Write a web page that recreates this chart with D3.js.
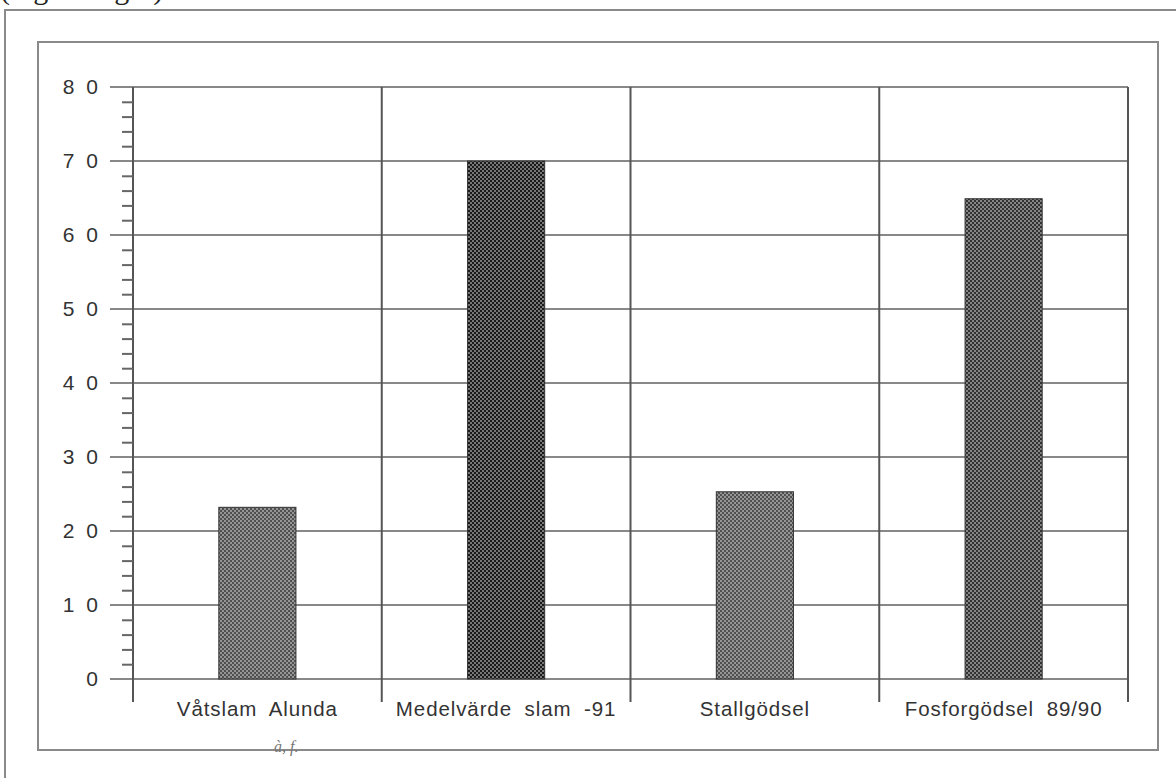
<!DOCTYPE html>
<html>
  <head>
    <meta charset="utf-8">
    <title>Fosfor chart</title>
    <script src="https://cdn.jsdelivr.net/npm/d3@7"></script>
    <style>
      body { margin: 0; background: #fff; }
      svg { display: block; }
      .frame { fill: none; stroke: #8a8a8a; stroke-width: 2; }
      .grid line { stroke: #888; stroke-width: 2; }
      .vgrid line { stroke: #555; stroke-width: 2; }
      .yaxis text { font-family: "Liberation Sans", Arial, sans-serif; font-size: 21px; fill: #333; letter-spacing: 3px; }
      .xlab { font-family: "Liberation Sans", Arial, sans-serif; font-size: 20.5px; fill: #333; word-spacing: 6px; letter-spacing: 0.9px; }
    </style>
  </head>
  <body>
    <svg id="chart" width="1176" height="778"></svg>
  </body>
  <script>
    // values
    const categories = ["Våtslam Alunda", "Medelvärde slam -91", "Stallgödsel", "Fosforgödsel 89/90"];
    const values = [23.2, 70, 25.3, 64.9];
    const majorTicks = [0, 10, 20, 30, 40, 50, 60, 70, 80];
    const tickLabels = ["0", "10", "20", "30", "40", "50", "60", "70", "80"];
    const minorTicks = d3.range(0, 81, 2).filter((v) => v % 10 !== 0);

    // halftone shades for the bars (background colour of the dot pattern)
    const barShades = ["#505050", "#1a1a1a", "#505050", "#333"];

    const svg = d3.select("#chart");

    // frames of the scanned page
    svg.append("path").attr("class", "frame").attr("d", "M5,778 V10 H1176");
    svg.append("rect").attr("class", "frame").attr("x", 38).attr("y", 42).attr("width", 1120).attr("height", 708);

    // cut-off caption at the top of the page (only descenders show on the scan)
    svg.append("text")
      .attr("x", 0).attr("y", -1)
      .style("font-family", "Liberation Serif, serif").style("font-size", "30px").style("fill", "#222")
      .text("(mg Cd/kg P)");

    const y = d3.scaleLinear().domain([0, 80]).range([679, 87]);
    const x = d3.scaleBand().domain(categories).range([133, 1128]);

    // dot patterns
    const defs = svg.append("defs");
    barShades.forEach((c, i) => {
      const p = defs.append("pattern")
        .attr("id", "dots" + i)
        .attr("width", 4).attr("height", 4)
        .attr("patternUnits", "userSpaceOnUse");
      p.append("rect").attr("width", 4).attr("height", 4).attr("fill", c);
      p.append("circle").attr("cx", 1).attr("cy", 1).attr("r", 0.8).attr("fill", "#eee");
      p.append("circle").attr("cx", 3).attr("cy", 3).attr("r", 0.8).attr("fill", "#eee");
    });

    // horizontal grid lines (also the major ticks)
    svg.append("g").attr("class", "grid")
      .selectAll("line").data(majorTicks).enter().append("line")
      .attr("x1", 110).attr("x2", 1128)
      .attr("y1", (d) => y(d)).attr("y2", (d) => y(d));

    // vertical category dividers, reaching below the baseline
    const dividers = categories.map((c) => x(c)).concat([x.range()[1]]);
    svg.append("g").attr("class", "vgrid")
      .selectAll("line").data(dividers).enter().append("line")
      .attr("x1", (d) => d).attr("x2", (d) => d)
      .attr("y1", y(80)).attr("y2", y(0) + 23);

    // y axis with minor ticks
    const yMinor = svg.append("g").attr("transform", "translate(133,0)")
      .call(d3.axisLeft(y).tickValues(minorTicks).tickSize(11).tickFormat(""));
    yMinor.select(".domain").remove();
    yMinor.selectAll("line").attr("stroke", "#666").attr("stroke-width", 2);

    const yAxis = svg.append("g").attr("class", "yaxis").attr("transform", "translate(133,0)")
      .call(d3.axisLeft(y).tickValues(majorTicks).tickSize(23).tickPadding(9)
        .tickFormat((d, i) => tickLabels[i].split("").join(" ")));
    yAxis.select(".domain").remove();
    yAxis.selectAll("line").remove();
    yAxis.selectAll("text").attr("font-family", null).attr("font-size", null);

    // bars
    const barW = x.bandwidth() * 0.31;
    svg.append("g").selectAll("rect").data(values).enter().append("rect")
      .attr("x", (d, i) => x(categories[i]) + (x.bandwidth() - barW) / 2)
      .attr("y", (d) => y(d))
      .attr("width", barW)
      .attr("height", (d) => y(0) - y(d))
      .attr("fill", (d, i) => "url(#dots" + i + ")")
      .attr("stroke", "#333").attr("stroke-width", 1);

    // category labels
    svg.append("g").selectAll("text").data(categories).enter().append("text")
      .attr("class", "xlab")
      .attr("x", (d) => x(d) + x.bandwidth() / 2)
      .attr("y", 716)
      .attr("text-anchor", "middle")
      .text((d) => d.replace(/ /g, "  "));

    // small pencil mark on the scan
    svg.append("text")
      .attr("x", 274).attr("y", 752)
      .style("font-family", "Liberation Serif, serif").style("font-style", "italic")
      .style("font-size", "16px").style("fill", "#777")
      .text("à,  f.");
  </script>
</html>
